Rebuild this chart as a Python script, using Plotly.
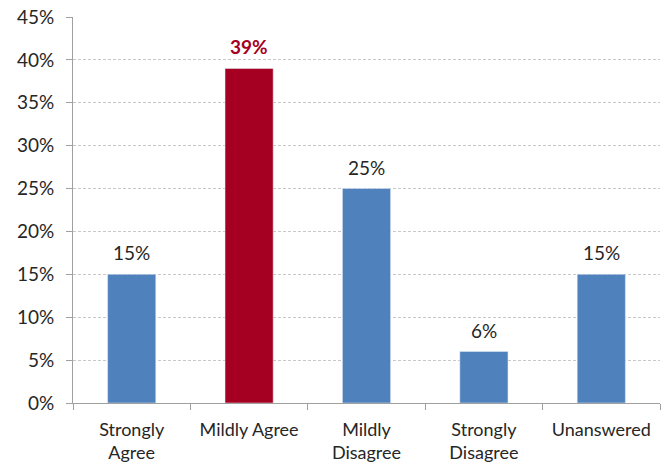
import plotly.graph_objects as go

categories = ["Strongly<br>Agree", "Mildly Agree", "Mildly<br>Disagree", "Strongly<br>Disagree", "Unanswered"]
values = [15, 39, 25, 6, 15]
labels = ["15%", "39%", "25%", "6%", "15%"]
colors = ["#4F81BD", "#A50021", "#4F81BD", "#4F81BD", "#4F81BD"]
label_colors = ["#262626", "#A50021", "#262626", "#262626", "#262626"]
label_bold = [False, True, False, False, False]
y_ticks = [0, 5, 10, 15, 20, 25, 30, 35, 40, 45]

fig = go.Figure(go.Bar(
    x=categories, y=values, marker_color=colors, width=0.41,
))
for c, v, t, col, b in zip(categories, values, labels, label_colors, label_bold):
    fig.add_annotation(x=c, y=v, text=("<b>%s</b>" % t) if b else t, showarrow=False,
                       yanchor="bottom", yshift=8,
                       font=dict(color=col, size=19, family="Lato"))

fig.update_layout(
    width=662, height=468, margin=dict(l=73, r=2, t=17, b=65),
    plot_bgcolor="white", paper_bgcolor="white", showlegend=False,
    font=dict(family="Lato", size=18, color="#262626"),
)
fig.update_yaxes(range=[0, 45], tickvals=y_ticks, ticktext=["%d%%" % v for v in y_ticks],
                 showgrid=True, gridcolor="#C8C8C8", griddash="3px,2px", gridwidth=1,
                 showline=True, linecolor="#A0A0A0", linewidth=1,
                 ticks="outside", ticklen=6, tickcolor="#A0A0A0", zeroline=False,
                 ticklabelstandoff=8, tickfont=dict(size=19))
fig.update_xaxes(showline=True, linecolor="#A0A0A0", linewidth=1,
                 ticks="outside", ticklen=6, tickcolor="#A0A0A0", tickson="boundaries",
                 ticklabelstandoff=10, tickfont=dict(size=18))
fig.write_html("out.html")
